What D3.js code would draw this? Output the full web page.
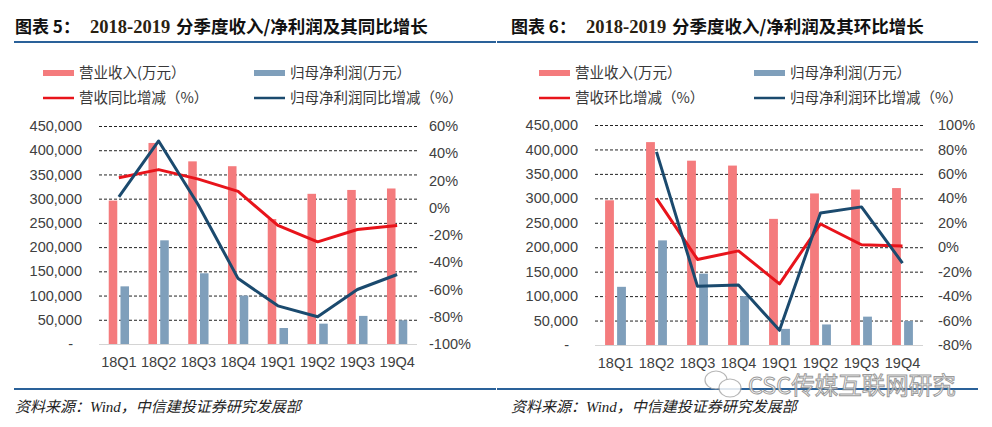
<!DOCTYPE html>
<html>
<head>
<meta charset="utf-8">
<script src="https://cdn.jsdelivr.net/npm/d3@7"></script>
<style>
  body { margin: 0; background: #fff; }
  svg { display: block; }
</style>
</head>
<body>
<svg id="chart" width="992" height="427"></svg>
<script>
// ==================================
// Data
// ==================================
const quarters = ['18Q1', '18Q2', '18Q3', '18Q4', '19Q1', '19Q2', '19Q3', '19Q4'];
const revenue = [296000, 415000, 377000, 367000, 258000, 310000, 318000, 321000];
const netProfit = [119000, 214000, 146000, 100000, 33000, 42000, 58000, 49000];
const revenueYoY = [22, 28, 21, 12, -13, -25, -16, -13];
const profitYoY = [8, 49, 2, -52, -72, -80, -60, -49];
const revenueQoQ = [null, 40, -10, -3, -30, 19, 2, 1];
const profitQoQ = [null, 78, -32, -31, -68, 28, 33, -13];
const amountTicks = [0, 50000, 100000, 150000, 200000, 250000, 300000, 350000, 400000, 450000];
const yoyTicks = [-100, -80, -60, -40, -20, 0, 20, 40, 60];
const qoqTicks = [-80, -60, -40, -20, 0, 20, 40, 60, 80, 100];

const RED_BAR = '#f47b7d';
const BLUE_BAR = '#7f9fbb';
const RED_LINE = '#e8141b';
const BLUE_LINE = '#1b4a6e';
const RULE = '#2a6199';

const svg = d3.select('#chart');
svg.append('rect').attr('width', 992).attr('height', 427).attr('fill', '#fff');

// ==================================
// one panel (title, legend, chart, footer)
// ==================================
function drawPanel(cfg) {
  const g = svg.append('g').attr('transform', `translate(${cfg.x0},0)`);

  // title
  g.append('text').attr('x', 15).attr('y', 33)
    .attr('font-family', "'Noto Sans CJK SC', sans-serif").attr('font-weight', 700)
    .attr('font-size', 17).attr('fill', '#111').text(cfg.titleNum);
  g.append('text').attr('x', 90).attr('y', 33)
    .attr('font-family', "'Liberation Serif', serif").attr('font-weight', 700)
    .attr('font-size', 18.5).attr('fill', '#2a2110').text('2018-2019');
  g.append('text').attr('x', 176).attr('y', 33)
    .attr('font-family', "'Noto Sans CJK SC', sans-serif").attr('font-weight', 700)
    .attr('font-size', 17.5).attr('fill', '#111').text(cfg.titleText);

  g.append('line').attr('x1', cfg.ruleL).attr('x2', cfg.ruleR).attr('y1', 42).attr('y2', 42)
    .attr('stroke', RULE).attr('stroke-width', 2);

  // legend
  const legend = [
    { label: cfg.legend[0], color: RED_BAR, w: 6, x: 43, y: 73 },
    { label: cfg.legend[1], color: BLUE_BAR, w: 6, x: cfg.leg2x, y: 73 },
    { label: cfg.legend[2], color: RED_LINE, w: 2.5, x: 43, y: 98 },
    { label: cfg.legend[3], color: BLUE_LINE, w: 2.5, x: cfg.leg2x, y: 98 }
  ];
  legend.forEach(l => {
    g.append('line').attr('x1', l.x).attr('x2', l.x + 31).attr('y1', l.y).attr('y2', l.y)
      .attr('stroke', l.color).attr('stroke-width', l.w);
    g.append('text').attr('x', l.x + 36).attr('y', l.y + 5)
      .attr('font-family', "'Noto Sans CJK SC', sans-serif").attr('font-size', 14.5)
      .attr('fill', '#383838').text(l.label);
  });

  // scales
  const x = d3.scaleBand().domain(quarters).range([cfg.l, cfg.r]);
  const yL = d3.scaleLinear().domain([0, 450000]).range([cfg.b, cfg.t]);
  const yR = d3.scaleLinear().domain(d3.extent(cfg.pctTicks)).range([cfg.b, cfg.t]);

  // grid
  g.append('g').selectAll('line').data(amountTicks.filter(d => d > 0)).join('line')
    .attr('x1', cfg.l).attr('x2', cfg.r)
    .attr('y1', d => yL(d) + 0.5).attr('y2', d => yL(d) + 0.5)
    .attr('stroke', '#222').attr('stroke-width', 1).attr('stroke-dasharray', '3,2');

  // bars
  const bw = x.bandwidth() * 0.215;
  const gap = 1.6;
  g.append('g').selectAll('rect').data(quarters).join('rect')
    .attr('x', (d) => x(d) + x.bandwidth() / 2 - gap - bw)
    .attr('y', (d, i) => yL(revenue[i]))
    .attr('width', bw)
    .attr('height', (d, i) => cfg.b - yL(revenue[i]))
    .attr('fill', RED_BAR);
  g.append('g').selectAll('rect').data(quarters).join('rect')
    .attr('x', (d) => x(d) + x.bandwidth() / 2 + gap)
    .attr('y', (d, i) => yL(netProfit[i]))
    .attr('width', bw)
    .attr('height', (d, i) => cfg.b - yL(netProfit[i]))
    .attr('fill', BLUE_BAR);

  // baseline
  g.append('line').attr('x1', cfg.l).attr('x2', cfg.r).attr('y1', cfg.b + 0.5).attr('y2', cfg.b + 0.5)
    .attr('stroke', '#d4d4d4').attr('stroke-width', 1);

  // lines
  const line = d3.line()
    .defined(d => d != null)
    .x((d, i) => x(quarters[i]) + x.bandwidth() / 2)
    .y(d => yR(d));
  g.append('path').datum(cfg.lines[0]).attr('d', line)
    .attr('fill', 'none').attr('stroke', RED_LINE).attr('stroke-width', 3).attr('stroke-linejoin', 'round');
  g.append('path').datum(cfg.lines[1]).attr('d', line)
    .attr('fill', 'none').attr('stroke', BLUE_LINE).attr('stroke-width', 3).attr('stroke-linejoin', 'round');

  // axes
  const axisFont = sel => sel.selectAll('text')
    .attr('font-family', "'Liberation Sans', Arial, sans-serif").attr('font-size', 14.5).attr('fill', '#404040');

  const left = g.append('g').attr('transform', `translate(${cfg.l},0)`)
    .call(d3.axisLeft(yL).tickValues(amountTicks).tickSize(0).tickPadding(17)
      .tickFormat(d => d === 0 ? '-' : d3.format(',')(d)));
  left.select('.domain').remove();
  axisFont(left);
  left.selectAll('text').filter(d => d === 0).attr('dx', -9);

  const right = g.append('g').attr('transform', `translate(${cfg.r},0)`)
    .call(d3.axisRight(yR).tickValues(cfg.pctTicks).tickSize(0).tickPadding(cfg.rPad)
      .tickFormat(d => d + '%'));
  right.select('.domain').remove();
  axisFont(right);

  const bottom = g.append('g').attr('transform', `translate(0,${cfg.b})`)
    .call(d3.axisBottom(x).tickSize(0).tickPadding(13));
  bottom.select('.domain').remove();
  axisFont(bottom);

  // footer
  g.append('line').attr('x1', cfg.ruleL).attr('x2', cfg.ruleR).attr('y1', 389).attr('y2', 389)
    .attr('stroke', RULE).attr('stroke-width', 2);
  g.append('text').attr('x', 15).attr('y', 412)
    .attr('font-family', "'Liberation Serif', 'Noto Sans CJK SC', serif").attr('font-style', 'italic')
    .attr('font-size', 15).attr('fill', '#222').text('资料来源：Wind，中信建投证券研究发展部');
}

drawPanel({
  x0: 0, titleNum: '图表 5：', titleText: '分季度收入/净利润及其同比增长',
  ruleL: 14, ruleR: 496,
  legend: ['营业收入(万元）', '归母净利润(万元）', '营收同比增减（%）', '归母净利润同比增减（%）'],
  leg2x: 254,
  l: 99, r: 417, t: 126, b: 344, rPad: 12,
  pctTicks: yoyTicks, lines: [revenueYoY, profitYoY]
});

drawPanel({
  x0: 496, titleNum: '图表 6：', titleText: '分季度收入/净利润及其环比增长',
  ruleL: 1, ruleR: 482,
  legend: ['营业收入(万元）', '归母净利润(万元）', '营收环比增减（%）', '归母净利润环比增减（%）'],
  leg2x: 258,
  l: 99, r: 427, t: 125, b: 345, rPad: 15,
  pctTicks: qoqTicks, lines: [revenueQoQ, profitQoQ]
});

// watermark
const wm = svg.append('g').attr('opacity', 0.85);
wm.append('ellipse').attr('cx', 716).attr('cy', 380).attr('rx', 11).attr('ry', 9)
  .attr('fill', '#fff').attr('stroke', '#aaa').attr('stroke-width', 1.2);
wm.append('ellipse').attr('cx', 730).attr('cy', 388).attr('rx', 11).attr('ry', 9)
  .attr('fill', '#fff').attr('stroke', '#aaa').attr('stroke-width', 1.2);
wm.append('text').attr('x', 748).attr('y', 394)
  .attr('font-family', "'Noto Sans CJK SC', sans-serif").attr('font-size', 23.5)
  .attr('fill', '#fff').attr('stroke', '#8a8a8a').attr('stroke-width', 1)
  .text('CSC传媒互联网研究');
</script>
</body>
</html>
